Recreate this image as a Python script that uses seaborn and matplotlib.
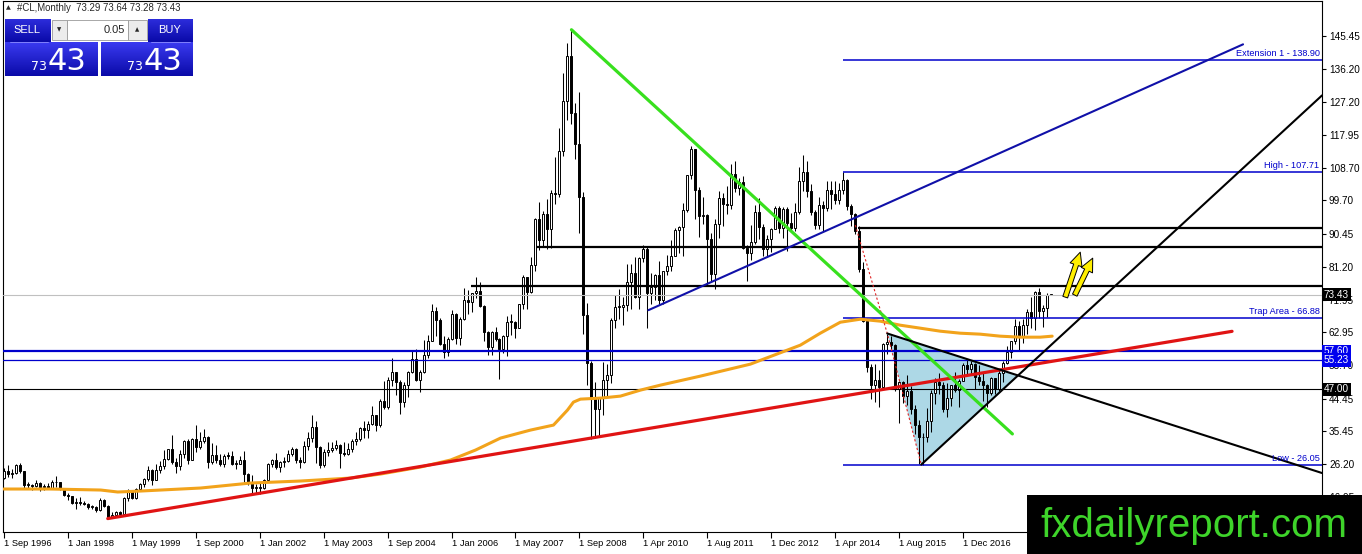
import numpy as np
import pandas as pd
import matplotlib
matplotlib.use("Agg")
import matplotlib.pyplot as plt
from matplotlib.patches import Rectangle, Polygon
from matplotlib.colors import LinearSegmentedColormap
import seaborn as sns

# monthly #CL bars, Sep 1996 .. Oct 2018 (feed has 3 months missing in 2009/10)
first_open = 22.25
closes = [
    24.38, 23.35, 23.75, 25.92,
    24.15, 20.30, 20.41, 20.21, 20.88, 19.80, 20.14, 19.61, 21.18, 21.08, 19.15, 17.64,
    17.21, 15.44, 15.61, 15.39, 15.20, 14.18, 14.21, 13.36, 16.14, 14.42, 11.22, 12.05,
    12.75, 12.27, 16.76, 18.66, 16.84, 19.29, 20.53, 22.11, 24.51, 21.75, 24.59, 25.60,
    27.64, 30.43, 26.90, 25.74, 29.01, 32.50, 27.43, 33.12, 30.84, 32.70, 33.82, 26.80,
    28.66, 27.39, 26.29, 28.46, 28.37, 26.25, 26.35, 27.20, 23.43, 21.18, 19.44, 19.84,
    19.48, 21.74, 26.31, 27.29, 25.31, 26.86, 27.02, 28.98, 30.45, 27.22, 26.89, 31.20,
    33.51, 36.60, 31.04, 25.80, 29.56, 30.19, 30.54, 31.57, 29.20, 29.11, 30.41, 32.52,
    33.05, 36.16, 35.76, 37.38, 39.88, 37.05, 43.80, 42.12, 49.64, 51.76, 49.13, 43.45,
    48.20, 51.75, 55.40, 49.72, 51.97, 56.50, 60.57, 68.94, 66.24, 59.76, 57.32, 61.04,
    67.92, 61.41, 66.63, 71.88, 71.29, 73.93, 74.40, 70.26, 62.91, 58.73, 62.97, 61.05,
    58.14, 61.79, 65.87, 65.71, 64.01, 70.68, 78.21, 74.04, 81.66, 94.53, 88.71, 95.98,
    91.75, 101.84, 101.58, 113.46, 127.35, 140.00, 124.08, 115.46, 100.64, 67.81, 54.43, 44.60,
    41.68, 44.76, 49.66, 51.12, 66.31, 69.89, 69.96, 70.61, 77.00, 79.36,
    72.89, 83.76, 86.15, 73.97, 75.63, 78.95, 71.92, 79.97, 81.43, 84.11, 91.38,
    92.19, 96.97, 106.72, 113.93, 102.70, 95.42, 95.70, 88.81, 79.20, 93.19, 100.36, 98.83,
    98.48, 107.07, 103.02, 104.87, 86.53, 84.96, 88.06, 96.47, 92.19, 86.24, 88.91, 91.82,
    97.49, 92.05, 97.23, 93.46, 91.97, 96.56, 105.03, 107.65, 102.33, 96.38, 92.72, 98.42,
    97.49, 102.59, 101.58, 99.74, 102.71, 105.37, 98.17, 95.96, 91.16, 80.54, 66.15, 53.27,
    48.24, 49.76, 47.60, 59.63, 60.30, 59.47, 47.12, 49.20, 45.09, 46.59, 41.65, 37.04,
    33.62, 33.75, 38.34, 45.92, 49.10, 48.33, 41.60, 44.70, 48.24, 46.86, 49.44, 53.72,
    52.81, 54.01, 50.60, 49.33, 48.32, 46.04, 50.17, 47.23, 51.67, 54.38, 57.40, 60.42,
    64.73, 61.64, 64.94, 68.57, 67.04, 74.15, 68.76, 69.80, 73.25, 73.43,
]
highs = [
    25.10, 25.92, 24.90, 26.10,
    26.62, 24.20, 21.30, 20.70, 21.80, 21.10, 20.70, 20.80, 21.80, 23.00, 21.20, 19.30,
    18.20, 17.30, 16.70, 17.10, 15.90, 15.30, 14.80, 14.40, 16.80, 16.40, 14.80, 12.80,
    13.20, 13.00, 16.90, 19.20, 19.00, 19.50, 20.80, 22.30, 25.60, 24.80, 26.30, 27.00,
    30.00, 30.50, 34.40, 27.80, 30.20, 33.00, 33.20, 33.40, 37.20, 35.00, 36.10, 34.00,
    32.20, 31.50, 29.10, 28.90, 29.70, 29.90, 27.40, 28.50, 29.80, 23.80, 23.10, 20.70,
    21.20, 22.00, 26.60, 27.70, 29.40, 27.00, 28.20, 30.10, 31.00, 30.80, 28.10, 32.70,
    35.00, 39.99, 38.20, 31.30, 30.40, 32.40, 32.30, 32.80, 31.80, 32.40, 32.00, 33.30,
    35.20, 36.50, 38.20, 38.20, 42.30, 40.00, 44.30, 49.40, 50.50, 55.70, 50.50, 49.50,
    49.20, 52.10, 57.60, 58.30, 52.40, 60.90, 62.30, 70.85, 70.00, 67.00, 62.00, 61.50,
    69.20, 68.40, 67.10, 75.30, 74.80, 74.00, 78.40, 77.00, 70.40, 63.20, 63.20, 64.30,
    61.40, 62.20, 67.60, 67.90, 66.10, 70.80, 78.80, 78.30, 83.90, 94.70, 99.30, 96.80,
    100.10, 102.60, 111.80, 119.90, 135.10, 143.70, 147.27, 126.90, 130.00, 102.00, 71.00, 55.00,
    49.00, 45.00, 54.70, 54.00, 66.90, 73.40, 75.00, 72.90, 82.00, 82.00,
    83.95, 83.80, 87.15, 87.00, 79.40, 79.20, 82.90, 80.10, 84.40, 88.60, 91.90,
    92.60, 99.00, 106.90, 114.80, 114.00, 103.40, 100.60, 95.80, 90.50, 94.60, 102.40, 101.80,
    103.70, 109.80, 110.55, 106.00, 106.40, 87.40, 92.90, 98.30, 100.40, 93.00, 90.00, 91.90,
    98.20, 98.20, 97.80, 97.90, 96.10, 99.00, 108.90, 112.24, 110.70, 104.20, 97.00, 100.75,
    99.40, 105.20, 105.20, 104.99, 104.50, 107.71, 105.80, 98.70, 96.10, 92.50, 82.40, 67.00,
    54.20, 54.20, 52.50, 59.90, 62.58, 61.80, 59.60, 49.30, 49.30, 50.90, 48.00, 42.60,
    38.40, 34.80, 41.90, 46.80, 50.20, 51.70, 49.00, 48.75, 48.30, 51.90, 49.90, 54.50,
    55.20, 54.90, 54.30, 53.80, 52.00, 48.60, 50.40, 50.20, 52.80, 54.80, 59.05, 60.50,
    66.66, 66.20, 66.60, 69.56, 72.90, 74.46, 75.27, 70.40, 73.90, 73.64,
]
lows = [
    22.10, 22.60, 22.40, 23.40,
    23.60, 19.60, 19.40, 19.00, 19.70, 18.60, 19.10, 19.30, 19.20, 19.90, 18.90, 17.30,
    16.20, 15.10, 13.70, 14.90, 14.70, 13.60, 13.60, 12.80, 13.20, 14.20, 10.95, 11.25,
    11.90, 11.80, 12.00, 15.80, 16.40, 16.50, 18.80, 19.80, 21.60, 20.50, 21.70, 23.70,
    24.80, 27.40, 26.20, 23.80, 24.60, 28.00, 26.30, 27.20, 29.60, 30.50, 32.00, 25.20,
    26.30, 26.50, 25.60, 25.50, 27.50, 25.80, 24.70, 26.10, 21.30, 20.50, 17.50, 17.80,
    17.90, 19.20, 21.30, 25.30, 24.90, 24.00, 25.40, 26.70, 28.50, 26.50, 25.10, 26.50,
    30.00, 32.30, 26.50, 25.00, 25.40, 28.50, 29.50, 30.20, 25.00, 28.50, 28.80, 29.60,
    31.50, 32.50, 33.50, 33.60, 37.20, 35.30, 36.60, 41.50, 41.60, 48.00, 45.40, 40.20,
    42.10, 44.80, 51.50, 49.30, 46.20, 51.60, 55.80, 60.50, 62.00, 59.30, 55.90, 56.40,
    60.80, 59.60, 59.30, 66.30, 68.00, 68.50, 72.50, 69.90, 60.40, 56.60, 56.50, 60.50,
    49.90, 57.10, 56.30, 62.20, 61.40, 64.00, 69.50, 69.30, 73.90, 79.90, 86.00, 87.10,
    86.10, 86.40, 98.60, 100.70, 112.00, 122.20, 121.00, 111.30, 90.50, 62.50, 48.30, 33.20,
    33.55, 33.98, 40.00, 45.30, 48.80, 64.00, 66.50, 65.00, 69.00, 69.50,
    72.40, 69.50, 82.50, 64.20, 70.80, 71.80, 70.80, 70.80, 79.00, 80.00, 84.70,
    85.10, 84.10, 96.60, 105.80, 94.60, 89.60, 93.00, 75.70, 77.10, 74.95, 89.20, 92.50,
    96.00, 97.30, 102.10, 101.20, 86.10, 77.30, 83.00, 87.50, 88.90, 84.10, 84.05, 85.30,
    91.80, 90.60, 89.30, 85.60, 90.80, 91.10, 95.90, 102.20, 100.60, 95.60, 91.80, 91.80,
    91.20, 96.70, 97.40, 98.70, 98.60, 101.60, 97.10, 92.50, 90.40, 79.80, 65.70, 52.00,
    44.35, 43.60, 42.00, 47.00, 57.00, 57.60, 46.70, 37.75, 43.20, 42.60, 40.20, 34.50,
    26.19, 26.05, 32.30, 35.20, 43.00, 45.80, 40.60, 39.20, 42.50, 46.40, 42.20, 49.40,
    50.70, 51.20, 47.10, 48.20, 43.80, 42.05, 45.40, 45.60, 46.60, 49.10, 54.20, 55.80,
    59.80, 58.10, 59.90, 62.40, 64.20, 63.60, 67.00, 64.40, 67.10, 73.20,
]

date_labels = ["1 Sep 1996", "1 Jan 1998", "1 May 1999", "1 Sep 2000", "1 Jan 2002",
               "1 May 2003", "1 Sep 2004", "1 Jan 2006", "1 May 2007", "1 Sep 2008",
               "1 Apr 2010", "1 Aug 2011", "1 Dec 2012", "1 Apr 2014", "1 Aug 2015",
               "1 Dec 2016"]
price_ticks = [145.45, 136.20, 127.20, 117.95, 108.70, 99.70, 90.45, 81.20, 71.95,
               62.95, 53.70, 44.45, 35.45, 26.20, 16.95]

# orange moving average (bar index, price)
ma_idx = [0, 11.75, 24.25, 28.5, 34.25, 49.25, 61.75, 74.25, 86.75, 94.25, 104.25,
          111.75, 118, 124.25, 131.75, 137.5, 141, 142.5, 144.25, 149.25, 154.25,
          159.25, 164.25, 174.25, 186.75, 199.25, 204.25, 209.25, 214.25, 219.25,
          224.25, 229.25, 234.25, 239.25, 244.25, 249.25, 254.25, 259.25, 262.25]
ma_val = [19.24, 19.24, 18.96, 18.41, 18.68, 19.52, 20.91, 21.47, 22.30, 23.42, 25.37,
          27.32, 30.10, 33.44, 35.67, 37.06, 41.24, 43.47, 44.30, 44.58, 45.14,
          46.81, 48.20, 50.71, 54.05, 59.34, 62.68, 65.74, 66.58, 66.03,
          64.91, 64.08, 63.24, 62.68, 62.41, 61.85, 61.57, 61.57, 61.85]

# drawn objects
fib_names = ["Extension 1", "High", "Trap Area", "Low"]
fib_levels = [138.90, 107.71, 66.88, 26.05]
fib_start = 210
blue_levels = [57.60, 55.23]
black_level = 47.00
res_levels = [92.0, 86.6, 75.8]
res_start = [213.75, 133.5, 116.75]
last_price = 73.43
header_ohlc = [73.29, 73.64, 73.28, 73.43]

green_x, green_y = [142, 252.3], [147.27, 34.6]
red_x, red_y = [26, 307.25], [11.0, 63.2]
navy_x, navy_y = [161.25, 310], [69.1, 143.2]
rise_x, rise_y = [229.5, 329.75], [26.05, 128.96]
fall_x, fall_y = [221, 329.75], [62.6, 23.7]
tri_x, tri_y = [221, 229.5, 253.6], [62.6, 26.05, 50.9]
dots_x, dots_y = [213, 221, 229.5], [92.8, 62.6, 26.05]

W, H = 1362, 554
sns.set_theme(style="white")
plt.rcParams["font.family"] = ["Liberation Sans", "DejaVu Sans"]

fig = plt.figure(figsize=(W / 100, H / 100), dpi=100)
ax = fig.add_axes([3 / W, 22 / H, 1319 / W, 531.5 / H])
ax.set_facecolor("white")

df = pd.DataFrame({"open": [first_open] + closes[:-1], "high": highs,
                   "low": lows, "close": closes})
df["i"] = np.arange(len(df))
up = df["close"] >= df["open"]
body_lo = df[["open", "close"]].min(axis=1)
body_h = (df["close"] - df["open"]).abs().clip(lower=0.25)

# triangle area under the candles
ax.add_patch(Polygon(list(zip(tri_x, tri_y)), closed=True, facecolor="#add8e6",
                     edgecolor="none", zorder=1))

ax.vlines(df["i"], df["low"], df["high"], color="black", linewidth=0.75, zorder=2)
ax.bar(df["i"][up], body_h[up], bottom=body_lo[up], width=0.5, facecolor="white",
       edgecolor="black", linewidth=0.7, zorder=3)
ax.bar(df["i"][~up], body_h[~up], bottom=body_lo[~up], width=0.5, facecolor="black",
       edgecolor="black", linewidth=0.7, zorder=3)

n_right = 329.75
ax.axhline(last_price, color="#c0c0c0", linewidth=0.8, zorder=4)
ax.axhline(black_level, color="black", linewidth=0.8, zorder=4)
ax.axhline(blue_levels[0], color="#0000cc", linewidth=1.6, zorder=4)
ax.axhline(blue_levels[1], color="#0000cc", linewidth=0.9, zorder=4)
for lvl, x0 in zip(res_levels, res_start):
    ax.hlines(lvl, x0, n_right, color="black", linewidth=1.6, zorder=4)
for name, lvl in zip(fib_names, fib_levels):
    ax.hlines(lvl, fib_start, n_right, color="#0000cc", linewidth=1.1, zorder=4)
    ax.text(n_right - 0.6, lvl + 0.5, f"{name} - {lvl:.2f}", color="#0000cc",
            fontsize=6.6, ha="right", va="bottom", zorder=6)

sns.lineplot(x=ma_idx, y=ma_val, ax=ax, color="#f2a31b", linewidth=2.2, zorder=5)
ax.plot(dots_x, dots_y, color="#e02020", linewidth=0.8, linestyle=(0, (2, 2)), zorder=5)
ax.plot(red_x, red_y, color="#e01414", linewidth=2.3, zorder=5)
ax.plot(green_x, green_y, color="#38e01e", linewidth=2.3, zorder=5)
ax.plot(navy_x, navy_y, color="#1010a8", linewidth=1.5, zorder=5)
ax.plot(rise_x, rise_y, color="black", linewidth=1.5, zorder=5)
ax.plot(fall_x, fall_y, color="black", linewidth=1.5, zorder=5)

for tail, head in [((265.3, 72.0), (269.5, 86.0)), ((267.6, 72.6), (272.7, 84.3))]:
    ax.annotate("", xy=head, xytext=tail, zorder=7,
                arrowprops=dict(arrowstyle="simple,head_length=0.8,head_width=0.75,tail_width=0.3",
                                facecolor="#ffee00", edgecolor="black", linewidth=0.7))

ax.set_xlim(-0.2, n_right)
ax.set_ylim(7.26, 155.42)
ax.set_xticks(np.arange(len(date_labels)) * 16, date_labels, fontsize=6.7)
for lbl in ax.get_xticklabels():
    lbl.set_horizontalalignment("left")
ax.yaxis.tick_right()
ax.set_yticks(price_ticks, [f"{v:.2f}" for v in price_ticks], fontsize=7.2)
ax.tick_params(axis="x", direction="out", length=4, width=0.8, pad=1, colors="black",
               bottom=True)
ax.tick_params(axis="y", direction="out", length=3, width=0.8, pad=2, colors="black",
               right=True, left=False)
for sp in ax.spines.values():
    sp.set_color("black")
    sp.set_linewidth(0.8)
ax.grid(False)

# price boxes on the right scale
ytr = ax.get_yaxis_transform()
for val, bg in [(last_price, "black"), (blue_levels[0], "#0000ee"),
                (blue_levels[1], "#0000ee"), (black_level, "black")]:
    ax.text(1.0015, val, f"{val:.2f}", transform=ytr, fontsize=7.2, color="white",
            ha="left", va="center", clip_on=False, zorder=8,
            bbox=dict(boxstyle="square,pad=0.18", facecolor=bg, edgecolor="none"))

# overlay in pixel units: trade panel and logo
ov = fig.add_axes([0, 0, 1, 1], zorder=10)
ov.patch.set_alpha(0)
panel = LinearSegmentedColormap.from_list("panel", ["#3a3af0", "#0a0aa8"])
grad = np.linspace(0, 1, 60).reshape(-1, 1)
for x0, x1, y0, y1 in [(5, 98, 42, 76), (101, 193, 42, 76), (5, 51, 19, 42),
                       (148, 193, 19, 42)]:
    ov.imshow(grad, extent=(x0, x1, y1, y0), cmap=panel, aspect="auto",
              vmin=-0.4 if y0 == 19 else 0, vmax=1.0, zorder=1)
ov.add_patch(Rectangle((52, 20), 15, 20, facecolor="#ececec", edgecolor="#9a9a9a", lw=0.6, zorder=2))
ov.add_patch(Rectangle((67, 20), 61, 20, facecolor="white", edgecolor="#9a9a9a", lw=0.6, zorder=2))
ov.add_patch(Rectangle((128, 20), 19, 20, facecolor="#ececec", edgecolor="#9a9a9a", lw=0.6, zorder=2))
ov.text(59.5, 30, "▼", fontsize=4, ha="center", va="center", family="DejaVu Sans", zorder=3)
ov.text(137.5, 30, "▲", fontsize=4, ha="center", va="center", family="DejaVu Sans", zorder=3)
ov.text(125, 30, "0.05", fontsize=8, ha="right", va="center", zorder=3)
ov.text(27, 30, "SELL", fontsize=8, color="white", ha="center", va="center", zorder=3)
ov.text(170, 30, "BUY", fontsize=8, color="white", ha="center", va="center", zorder=3)
ov.plot([10, 48], [42, 42], color="#8c8cff", linewidth=0.6, zorder=3)
ov.plot([151, 190], [42, 42], color="#8c8cff", linewidth=0.6, zorder=3)
big, small = f"{header_ohlc[3]:.2f}".split(".")
for xs in [48, 144]:
    ov.text(xs - 1, 70.5, big, fontsize=9, color="white", ha="right", va="baseline",
            family="DejaVu Sans", zorder=3)
    ov.text(xs, 70.5, small, fontsize=22, color="white", ha="left", va="baseline",
            family="DejaVu Sans", zorder=3)
ov.text(6, 8, "▲", fontsize=4.5, ha="left", va="center", family="DejaVu Sans")
ov.text(17, 8, "#CL,Monthly  " + " ".join(f"{v:.2f}" for v in header_ohlc),
        fontsize=6.9, ha="left", va="center")

ov.add_patch(Rectangle((1027, 494.5), 335, 60, facecolor="black", edgecolor="none", zorder=2))
ov.text(1040, 537, "fxdailyreport.com", fontsize=29, color="#3ed42a", ha="left",
        va="baseline", family="Liberation Sans", zorder=3)
ov.set_xlim(0, W)
ov.set_ylim(H, 0)
ov.axis("off")

fig.savefig("out.png", dpi=100)
